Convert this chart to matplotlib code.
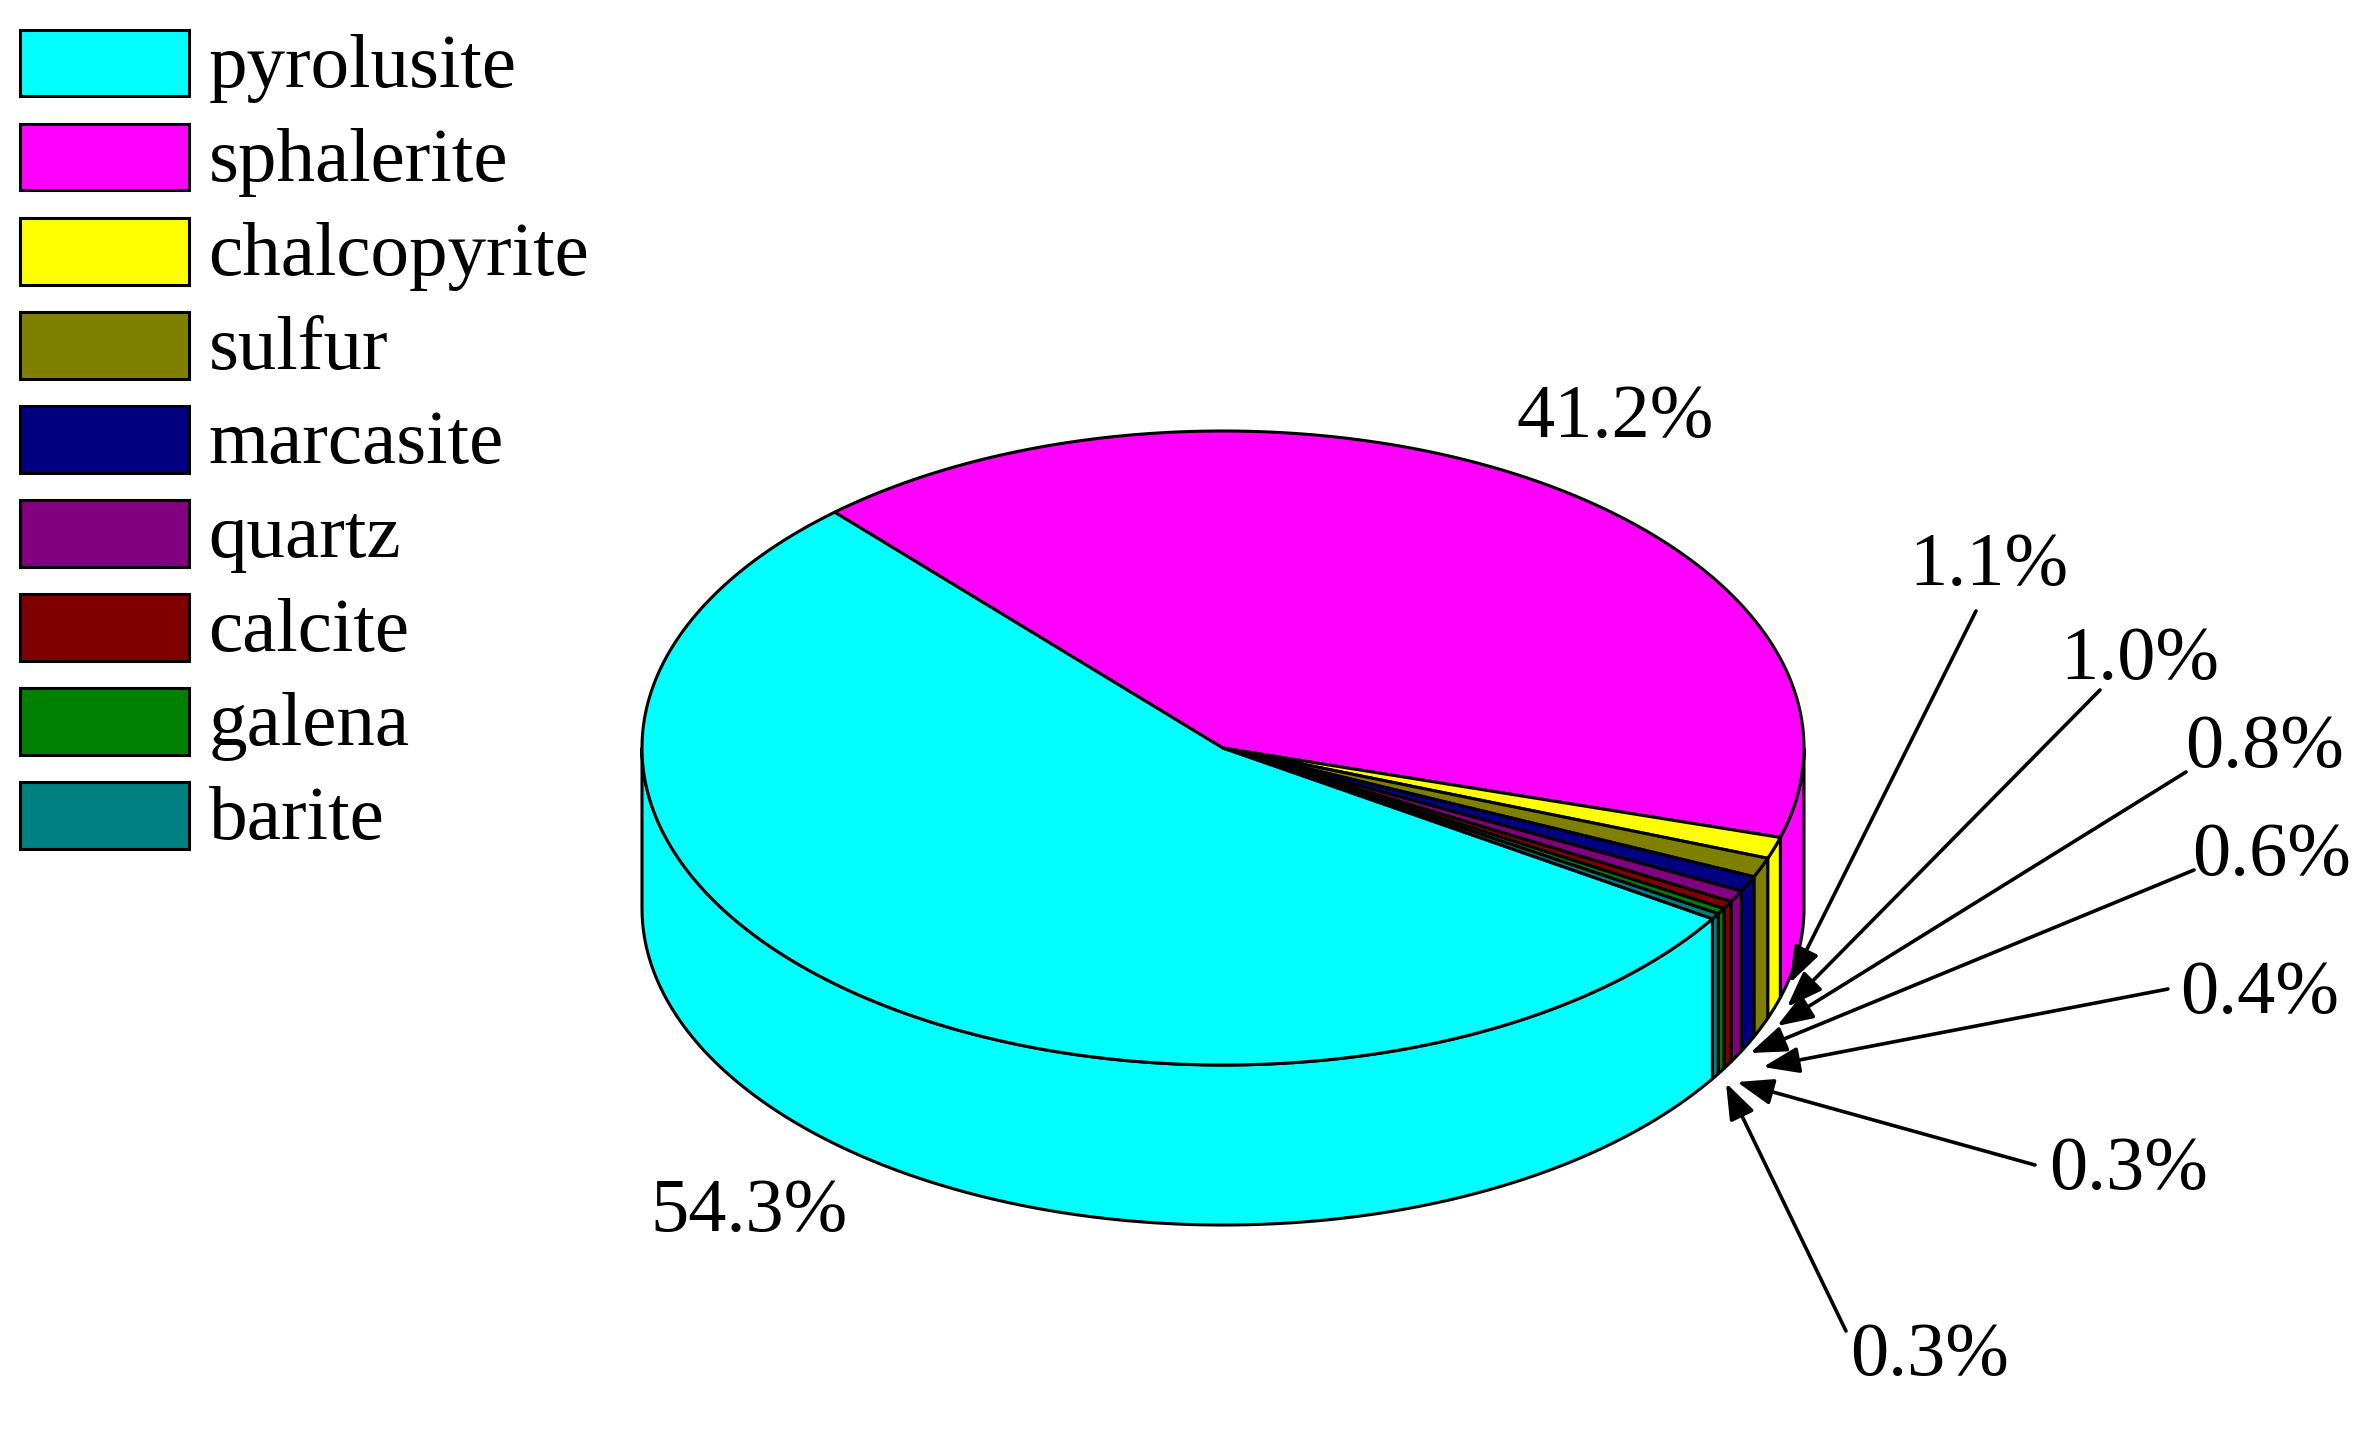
import numpy as np
import matplotlib
matplotlib.use("Agg")
import matplotlib.pyplot as plt
from matplotlib.patches import Patch

minerals = ["pyrolusite", "sphalerite", "chalcopyrite", "sulfur", "marcasite",
            "quartz", "calcite", "galena", "barite"]
percent = [54.3, 41.2, 1.1, 1.0, 0.8, 0.6, 0.4, 0.3, 0.3]
colors = ["#00ffff", "#ff00ff", "#ffff00", "#808000", "#000080",
          "#800080", "#800000", "#008000", "#008080"]

# Label centres and arrows in figure pixels (label x, label y, arrow tail, arrow head)
big_label_pos = {0: (749, 1213), 1: (1615, 419)}
small_label_pos = {2: (1989, 567), 3: (2140, 660), 4: (2265, 748), 5: (2272, 856),
                   6: (2260, 995), 7: (2129, 1171), 8: (1930, 1357)}
arrow_tail = {2: (1976, 611), 3: (2100, 690), 4: (2186, 772), 5: (2194, 870),
              6: (2168, 989), 7: (2035, 1165), 8: (1846, 1331)}
arrow_head = {2: (1790, 983), 3: (1787, 1007), 4: (1777, 1026), 5: (1750, 1053),
              6: (1763, 1067), 7: (1737, 1082), 8: (1726, 1083)}

CX, CY, RX, RY, DEPTH = 1223, 748, 581, 317, 160
START = -32.6
LW = 2.2
FS = 55
LEG_FS = 55.5

plt.rcParams["font.family"] = ["Liberation Serif", "DejaVu Serif"]
fig = plt.figure(figsize=(23.72, 14.30), dpi=100, facecolor="white")
ax = fig.add_axes([0, 0, 1, 1])
ax.set_xlim(0, 2372)
ax.set_ylim(1430, 0)
ax.axis("off")


def rim(t0, t1, n=240, dy=0):
    t = np.radians(np.linspace(t0, t1, n))
    return CX + RX * np.cos(t), CY - RY * np.sin(t) + dy


# slices run clockwise from START
sweep = np.array(percent) / sum(percent) * 360
ends = START - np.cumsum(sweep)
starts = ends + sweep

# side wall: only the front half of the rim (180..360 deg) shows
for s, e, c in zip(starts, ends, colors):
    lo, hi = e % 360, (e % 360) + (s - e)
    for shift in (-360, 0):
        a, b = max(lo + shift, 180), min(hi + shift, 360)
        if a < b:
            x, y = rim(a, b)
            xs = np.r_[x, x[::-1]]
            ys = np.r_[y, (y + DEPTH)[::-1]]
            ax.fill(xs, ys, facecolor=c, edgecolor="black", lw=LW, joinstyle="round", zorder=2)

# top face
for s, e, c in zip(starts, ends, colors):
    x, y = rim(e, s)
    ax.fill(np.r_[CX, x], np.r_[CY, y], facecolor=c, edgecolor="black", lw=LW,
            joinstyle="round", zorder=3)

# percentage labels
for i, (x, y) in {**big_label_pos, **small_label_pos}.items():
    ax.text(x, y, f"{percent[i]:.1f}%", fontsize=FS, ha="center", va="center", color="black", zorder=5)

for i in arrow_tail:
    ax.annotate("", xy=arrow_head[i], xytext=arrow_tail[i], zorder=6,
                arrowprops=dict(arrowstyle="-|>,head_length=2.2,head_width=0.8",
                                mutation_scale=10, lw=2.6, color="black",
                                shrinkA=0, shrinkB=0))

handles = [Patch(facecolor=c, edgecolor="black", lw=LW, label=m) for c, m in zip(colors, minerals)]
leg = ax.legend(handles=handles, loc="upper left", bbox_to_anchor=(20 / 2372, 1 - 30 / 1430),
                frameon=False, fontsize=LEG_FS, borderpad=0, borderaxespad=0,
                handlelength=169 / 77, handleheight=0.95, handletextpad=0.25,
                labelspacing=0.237)
for t in leg.get_texts():
    t.set_y(3)

fig.savefig("out.png", dpi=100, facecolor="white")
